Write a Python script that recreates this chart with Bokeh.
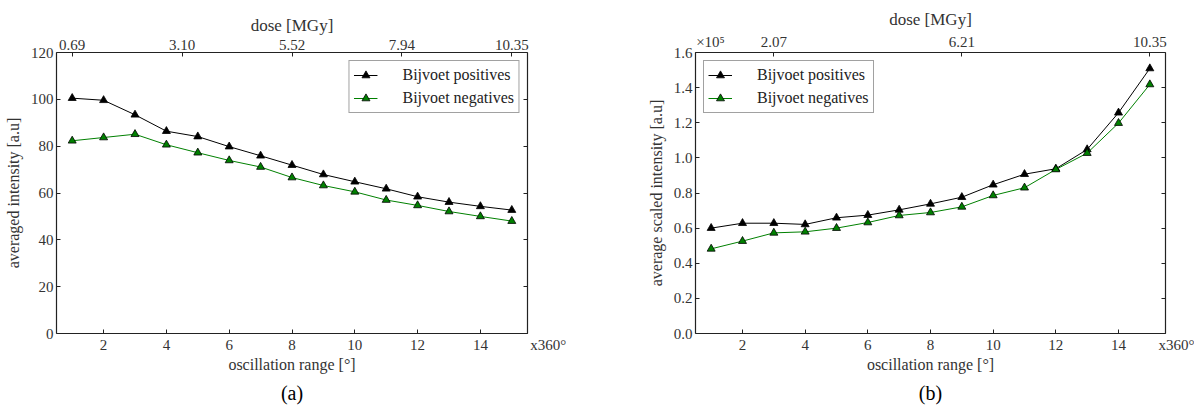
from bokeh.plotting import figure
from bokeh.models import (Range1d, LinearAxis, FixedTicker, CustomJSTickFormatter,
                          Legend, LegendItem, Title)
from bokeh.layouts import row
from bokeh.embed import file_html
from bokeh.resources import INLINE

# ---------------- data ----------------
osc = [1, 2, 3, 4, 5, 6, 7, 8, 9, 10, 11, 12, 13, 14, 15]

avg_pos = [100.5, 99.6, 93.4, 86.4, 84.1, 79.8, 75.9, 71.9, 67.9, 64.8, 61.8, 58.4, 56.1, 54.3, 52.7]
avg_neg = [82.3, 83.7, 85.1, 80.6, 77.2, 73.9, 71.1, 66.6, 63.2, 60.5, 57.0, 54.7, 52.1, 50.0, 48.0]

scl_pos = [60000, 62800, 62800, 62100, 65900, 67400, 70400, 73800, 77600,
           84700, 90700, 93800, 104800, 125700, 150900]
scl_neg = [48200, 52600, 57300, 57900, 60000, 63200, 67200, 68900, 72100,
           78600, 83000, 93400, 102700, 119800, 141800]

bottom_ticks = [2, 4, 6, 8, 10, 12, 14]
bottom_unit = "x360°"
left_ticks_a = [0, 20, 40, 60, 80, 100, 120]
left_ticks_b = [0, 20000, 40000, 60000, 80000, 100000, 120000, 140000, 160000]

dose_pos_a = [1, 4.5, 8, 11.5, 15]
dose_lab_a = ["0.69", "3.10", "5.52", "7.94", "10.35"]
dose_pos_b = [3, 9, 15]
dose_lab_b = ["2.07", "6.21", "10.35"]

series_names = ["Bijvoet positives", "Bijvoet negatives"]
series_colors = ["#000000", "#008000"]

X_LO, X_HI = 0.5, 15.5
FONT = "Liberation Serif"
NBSP = "\u00a0"


def style_axis(ax, labels=True, label_size="15px"):
    ax.axis_line_color = "#222222"
    ax.axis_line_width = 1.2
    ax.major_tick_line_color = "#222222"
    ax.major_tick_in = 4
    ax.major_tick_out = 0
    ax.minor_tick_line_color = None
    ax.major_label_text_font = FONT
    ax.major_label_text_font_size = label_size
    ax.major_label_text_color = "#333333"
    ax.major_label_standoff = 3
    ax.axis_label_text_font = FONT
    ax.axis_label_text_font_style = "normal"
    ax.axis_label_text_font_size = "16px"
    ax.axis_label_text_color = "#333333"
    ax.axis_label_standoff = 4
    if not labels:
        ax.formatter = CustomJSTickFormatter(code="return '';")
        ax.major_label_standoff = 0


def lookup_formatter(pos, labs):
    return CustomJSTickFormatter(
        args=dict(dpos=pos, dlab=labs),
        code="""
        for (let i = 0; i < dpos.length; i++) {
            if (Math.abs(dpos[i] - tick) < 1e-6) return dlab[i];
        }
        return '';""")


def make_plot(width, mb_left, mb_right, ylo, yhi, yticks, ylabel, ypos, yneg,
              dose_pos, dose_lab, legend_loc, caption, yformatter=None, mult=None,
              unit_pad=11):
    p = figure(width=width, height=407, output_backend="svg", toolbar_location=None,
               x_range=Range1d(X_LO, X_HI), y_range=Range1d(ylo, yhi),
               min_border_left=mb_left, min_border_right=mb_right,
               min_border_top=52, min_border_bottom=74,
               x_axis_location="below", y_axis_location="left")
    p.grid.visible = False
    p.outline_line_color = None
    p.background_fill_color = "white"
    p.border_fill_color = "white"

    # bottom axis; the unit "x360°" sits at the right end of the axis
    xa = p.xaxis[0]
    bpos = bottom_ticks + [X_HI]
    blab = [str(t) for t in bottom_ticks] + [NBSP * unit_pad + bottom_unit]
    xa.ticker = FixedTicker(ticks=bpos)
    xa.formatter = lookup_formatter(bpos, blab)
    xa.axis_label = "oscillation range [°]"
    style_axis(xa)
    xa.axis_label_standoff = 0

    ya = p.yaxis[0]
    ya.ticker = FixedTicker(ticks=yticks)
    ya.axis_label = ylabel
    if yformatter is not None:
        ya.formatter = yformatter
    style_axis(ya)
    ya.major_label_standoff = 3
    ya.axis_label_standoff = 6

    tpos = list(dose_pos)
    tlab = list(dose_lab)
    if mult:
        tpos = [X_LO] + tpos
        tlab = [NBSP * 8 + mult] + tlab
    top = LinearAxis(ticker=FixedTicker(ticks=tpos),
                     formatter=lookup_formatter(tpos, tlab),
                     axis_label="dose [MGy]")
    style_axis(top)
    top.axis_label_text_font_size = "17px"
    top.axis_label_standoff = 2
    p.add_layout(top, "above")

    right = LinearAxis(ticker=FixedTicker(ticks=yticks))
    style_axis(right, labels=False)
    p.add_layout(right, "right")

    items = []
    for vals, name, col in zip([ypos, yneg], series_names, series_colors):
        ln = p.line(osc, vals, line_color=col, line_width=1)
        sc = p.scatter(osc, vals, marker="triangle", size=8, fill_color=col,
                       line_color="black", line_width=0.8)
        items.append(LegendItem(label=name, renderers=[ln, sc]))

    leg = Legend(items=items, location=legend_loc, margin=8, padding=4,
                 glyph_width=24, glyph_height=20, label_standoff=25, spacing=3,
                 label_height=20,
                 label_text_font=FONT, label_text_font_size="16px",
                 label_text_color="#222222",
                 border_line_color="#444444", border_line_width=1.5,
                 background_fill_alpha=1.0)
    p.add_layout(leg)

    p.add_layout(Title(text=caption, align="center", text_font=FONT,
                       text_font_size="20px", text_font_style="normal",
                       text_color="black", standoff=8), "below")
    return p


p1 = make_plot(597, 56, 70, 0, 120, left_ticks_a, "averaged intensity [a.u]",
               avg_pos, avg_neg, dose_pos_a, dose_lab_a, "top_right", "(a)",
               unit_pad=11)

fmt_b = CustomJSTickFormatter(code="return (tick / 1e5).toFixed(1);")
p2 = make_plot(597, 98, 29, 0, 160000, left_ticks_b, "average scaled intensity [a.u]",
               scl_pos, scl_neg, dose_pos_b, dose_lab_b, "top_left", "(b)",
               yformatter=fmt_b, mult="×10⁵", unit_pad=7)

layout = row(p1, p2, spacing=0)
open("out.html", "w").write(file_html(layout, INLINE))
